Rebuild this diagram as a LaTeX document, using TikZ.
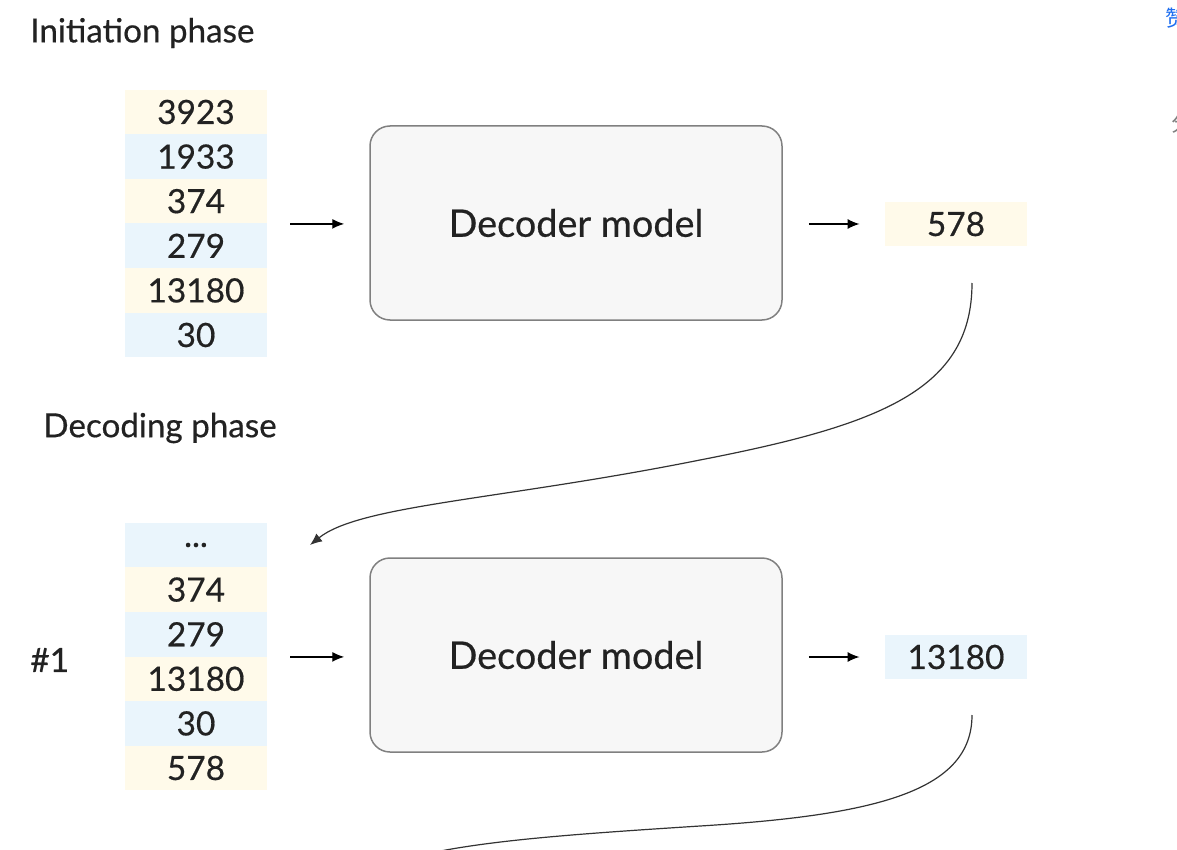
\documentclass[tikz,border=0pt]{standalone}
\usepackage{fontspec}
\usetikzlibrary{arrows.meta}
\setmainfont{Lato}[FakeBold=0.5]
\newfontfamily\cjk{Noto Sans CJK SC}
\definecolor{cr}{RGB}{255, 250, 234}
\definecolor{bl}{RGB}{234, 245, 252}
\definecolor{bx}{RGB}{247, 247, 247}
\definecolor{ed}{RGB}{128, 128, 128}
\definecolor{lk}{RGB}{30, 110, 240}
\definecolor{tx}{RGB}{34, 34, 34}

\begin{document}
\begin{tikzpicture}[x=0.5pt, y=-0.5pt,
  every node/.style={inner sep=0pt, text=tx},
  tok/.style={minimum width=71pt, minimum height=22.3pt, font=\fontsize{16.7}{19}\selectfont},
  model/.style={draw=ed, line width=0.75pt, fill=bx, rounded corners=10pt, minimum width=206pt, minimum height=97pt, font=\fontsize{18.9}{22}\selectfont},
  phase/.style={anchor=west, font=\fontsize{16.6}{19}\selectfont},
  flow/.style={-{Latex[length=6pt, width=5pt]}, line width=0.7pt, color=black}]
\useasboundingbox (0,0) rectangle (1177,850);
% initiation phase
\node (p1) [phase] at (30, 33) {Initiation phase};
\node (a1) [tok, fill=cr] at (196, 112.0) {3923};
\node (a2) [tok, fill=bl] at (196, 156.6) {1933};
\node (a3) [tok, fill=cr] at (196, 201.2) {374};
\node (a4) [tok, fill=bl] at (196, 245.8) {279};
\node (a5) [tok, fill=cr] at (196, 290.4) {13180};
\node (a6) [tok, fill=bl] at (196, 335.0) {30};
\node (m1) [model] at (576, 223) {Decoder model};
\node (o1) [tok, fill=cr] at (956, 224) {578};
\draw [flow, shorten <=11.5pt, shorten >=12.5pt] (a3.south east) -- (m1.west |- a3.south east);
\draw [flow, shorten <=13pt, shorten >=12.5pt] (m1.east |- o1) -- (o1.west);
% decoding phase
\node (p2) [phase] at (43, 428) {Decoding phase};
\node (n1) [anchor=west, font=\fontsize{16.7}{19}\selectfont] at (30, 660) {\#1};
\node (b1) [tok, fill=bl] at (196, 545.0) {...};
\node (b2) [tok, fill=cr] at (196, 589.6) {374};
\node (b3) [tok, fill=bl] at (196, 634.2) {279};
\node (b4) [tok, fill=cr] at (196, 678.8) {13180};
\node (b5) [tok, fill=bl] at (196, 723.4) {30};
\node (b6) [tok, fill=cr] at (196, 768.0) {578};
\node (m2) [model] at (576, 655) {Decoder model};
\node (o2) [tok, fill=bl] at (956, 657) {13180};
\draw [flow, shorten <=11.5pt, shorten >=12.5pt] (b3.south east) -- (m2.west |- b3.south east);
\draw [flow, shorten <=13pt, shorten >=12.5pt] (m2.east |- o2) -- (o2.west);
% feedback curves
\coordinate (t1) at (972, 283);
\coordinate (h1) at (310, 545);
\coordinate (t2) at (972, 715);
\coordinate (h2) at (395, 862);
\draw [flow, line width=0.6pt, color=black!80] (t1) .. controls (972, 390) and (880, 425) .. (700, 460) .. controls (500, 500) and (360, 505) .. (h1);
\draw [line width=0.6pt, color=black!80] (t2) .. controls (972, 790) and (880, 815) .. (700, 826) .. controls (560, 835) and (460, 842) .. (h2);
% page edge
\node (e1) [font=\cjk\fontsize{11}{13}\selectfont, text=lk] at (1176, 18) {赞};
\node (e2) [font=\cjk\fontsize{11}{13}\selectfont, text=black!50] at (1182, 123) {分};
\end{tikzpicture}
\end{document}
